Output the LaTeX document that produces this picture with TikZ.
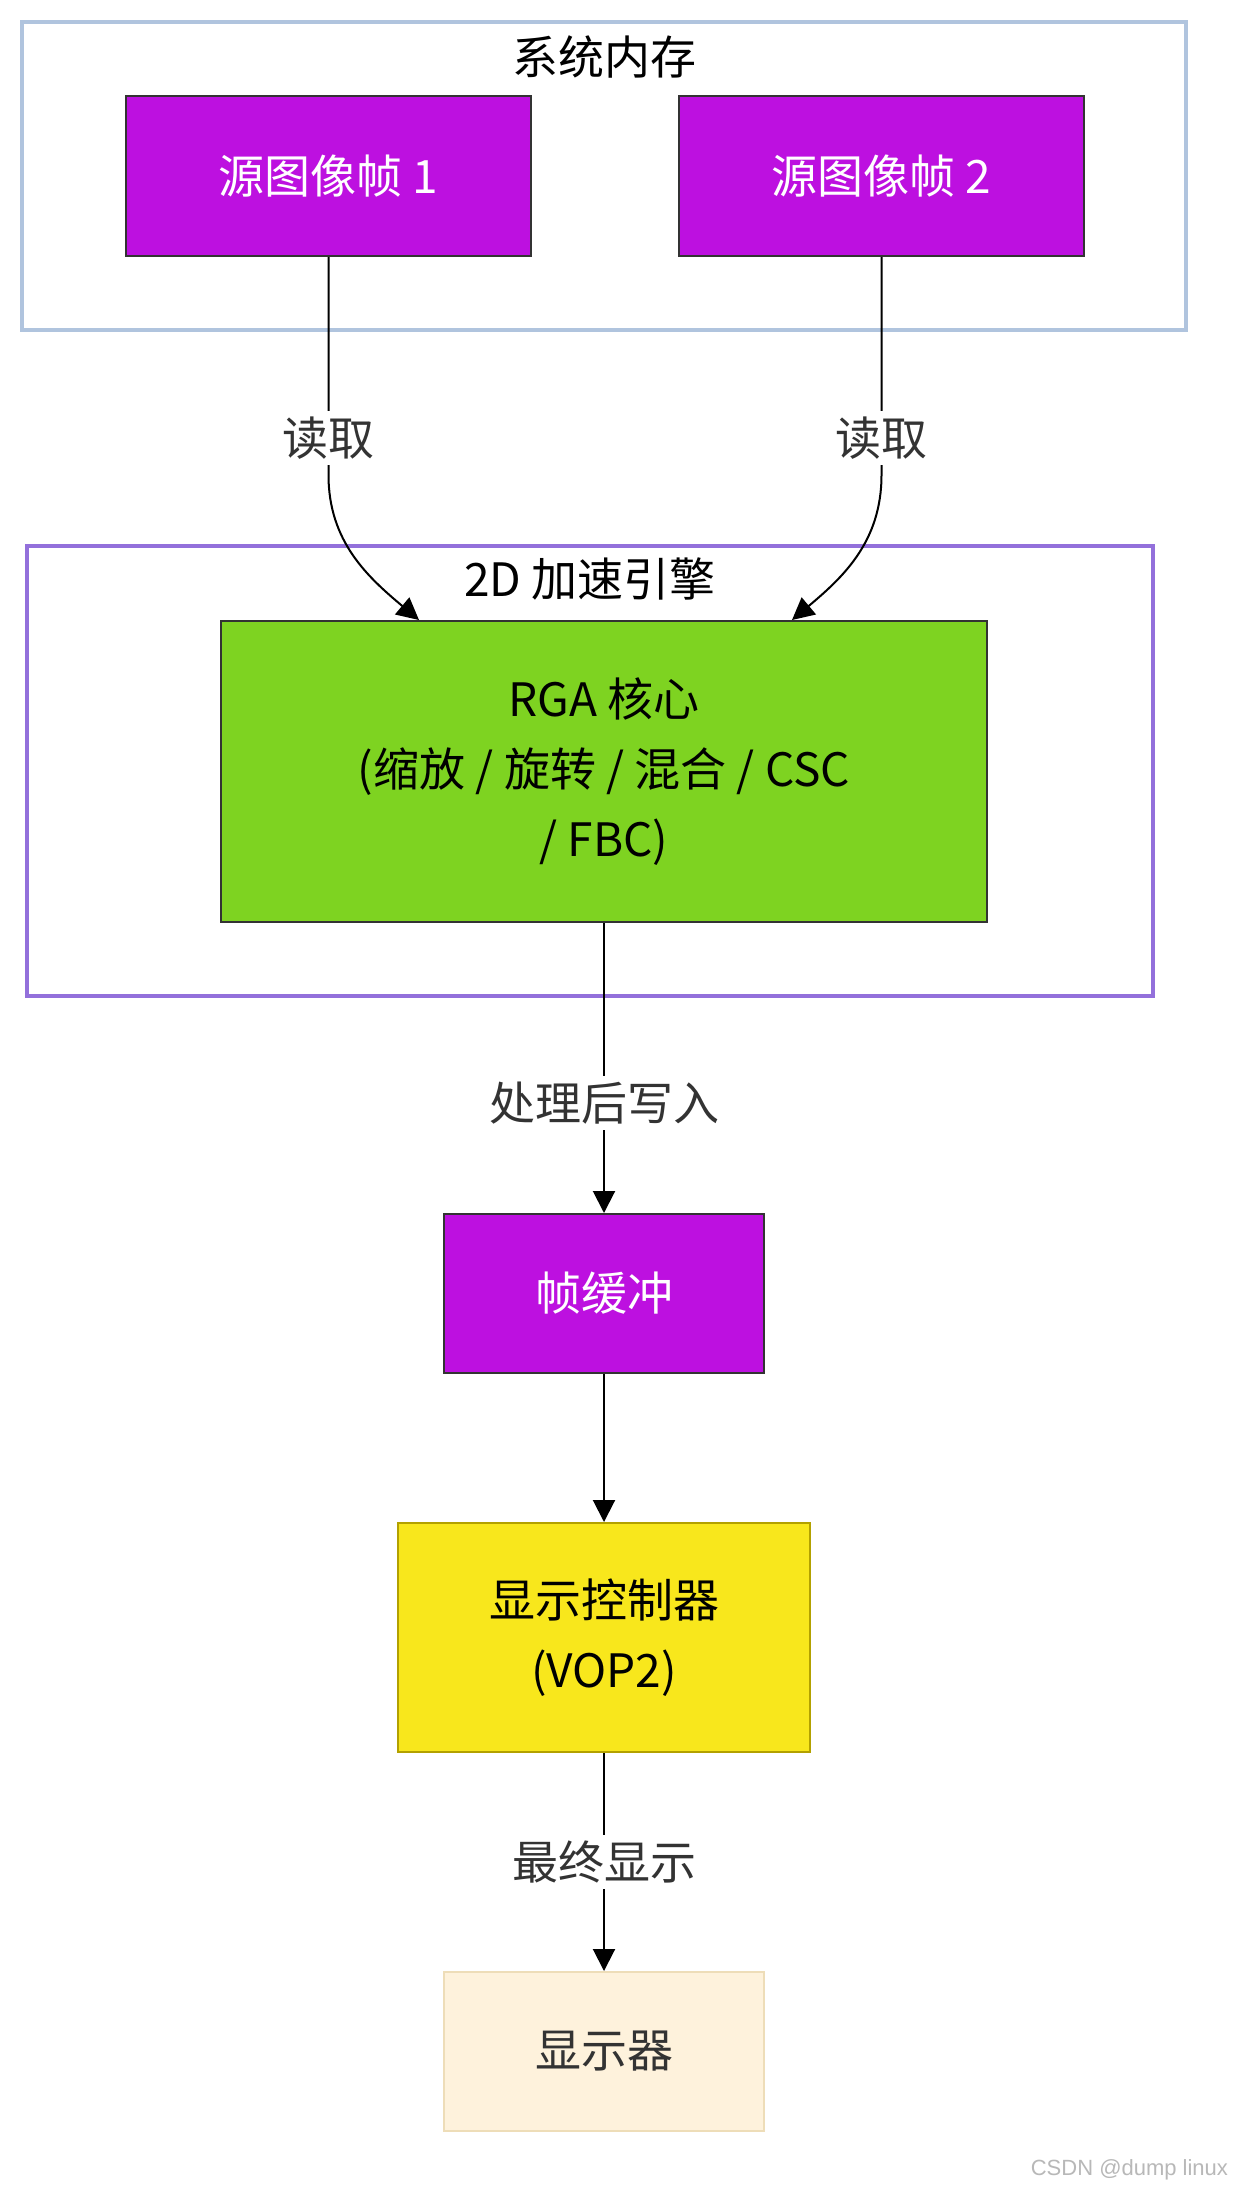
\documentclass[tikz,border=0pt]{standalone}
\usepackage{fontspec}
\setmainfont{Noto Sans CJK SC}
\newfontfamily\wmfont{Liberation Sans}
\usetikzlibrary{arrows.meta,positioning}

\definecolor{framepurple}{HTML}{BD10E0}
\definecolor{coregreen}{HTML}{7ED321}
\definecolor{vopyellow}{HTML}{F8E71C}
\definecolor{vopedge}{HTML}{B3A100}
\definecolor{screencream}{HTML}{FEF2DC}
\definecolor{screenedge}{HTML}{EEDDB8}
\definecolor{memblue}{HTML}{B0C4DE}
\definecolor{accpurple}{HTML}{9370DB}
\definecolor{darkgray}{HTML}{333333}

\begin{document}
\begin{tikzpicture}[x=.5pt,y=.5pt,->,>={Triangle[length=11pt,width=11pt]},line width=1pt,
	node distance=73pt,
	box/.style={rectangle,draw=darkgray,line width=1pt,inner sep=0pt,align=center,
		font=\fontsize{23}{35}\selectfont},
	purplebox/.style={box,fill=framepurple,text=white},
	srcbox/.style={purplebox,minimum width=202.5pt,minimum height=80pt},
	corebox/.style={box,fill=coregreen,minimum width=383pt,minimum height=150.5pt},
	bufbox/.style={purplebox,minimum width=160pt,minimum height=79.5pt},
	vopbox/.style={box,draw=vopedge,fill=vopyellow,minimum width=206pt,minimum height=114.5pt},
	screenbox/.style={box,draw=screenedge,fill=screencream,text=darkgray,minimum width=160pt,minimum height=79.5pt},
	cluster/.style={rectangle,line width=1.75pt,fill=white,inner sep=0pt},
	clustertitle/.style={font=\fontsize{23}{28}\selectfont,inner sep=0pt},
	lbl/.style={fill=white,text=darkgray,inner sep=3pt,font=\fontsize{23}{28}\selectfont},
	wmark/.style={text=black!28,inner sep=0pt,font=\wmfont\fontsize{11}{13}\selectfont}]
	\fill[white,-] (0,0) rectangle (1233,-2190);
	\useasboundingbox (0,0) rectangle (1233,-2190);
	
	% clusters
	\node[cluster,draw=memblue,minimum width=582pt,minimum height=154pt](mem) at (604,-176){};
	\node[clustertitle](memtitle) at ([yshift=-18.5pt]mem.north){系统内存};
	\node[cluster,draw=accpurple,minimum width=563pt,minimum height=225pt](acc) at (590,-771){};
	\node[clustertitle](acctitle) at ([yshift=-17.5pt]acc.north){2D 加速引擎};
	
	\node[srcbox](src1) at (328.5,-176){源图像帧 1};
	\node[srcbox](src2)[right=of src1]{源图像帧 2};
	\node[corebox](rga) at (604,-771.5){RGA 核心\\(缩放 / 旋转 / 混合 / CSC\\/ FBC)};
	\node[bufbox](fb)[below=145pt of rga]{帧缓冲};
	\node[vopbox](vop)[below=74pt of fb]{显示控制器\\(VOP2)};
	\node[screenbox](scr)[below=109pt of vop]{显示器};
	
	\draw (src1.south) -- node[lbl,pos=.83]{读取} ++(0,-218)
		to[out=-90,in=140] ([xshift=-92.5pt]rga.north);
	\draw (src2.south) -- node[lbl,pos=.83]{读取} ++(0,-218)
		to[out=-90,in=40] ([xshift=94pt]rga.north);
	\path (rga) edge node[lbl,pos=.62] {处理后写入} (fb)
		  (fb) edge (vop)
		  (vop) edge node[lbl] {最终显示} (scr);
	
	\node[wmark,anchor=east](wm) at (1229,-2170){CSDN @dump linux};
\end{tikzpicture}
\end{document}
